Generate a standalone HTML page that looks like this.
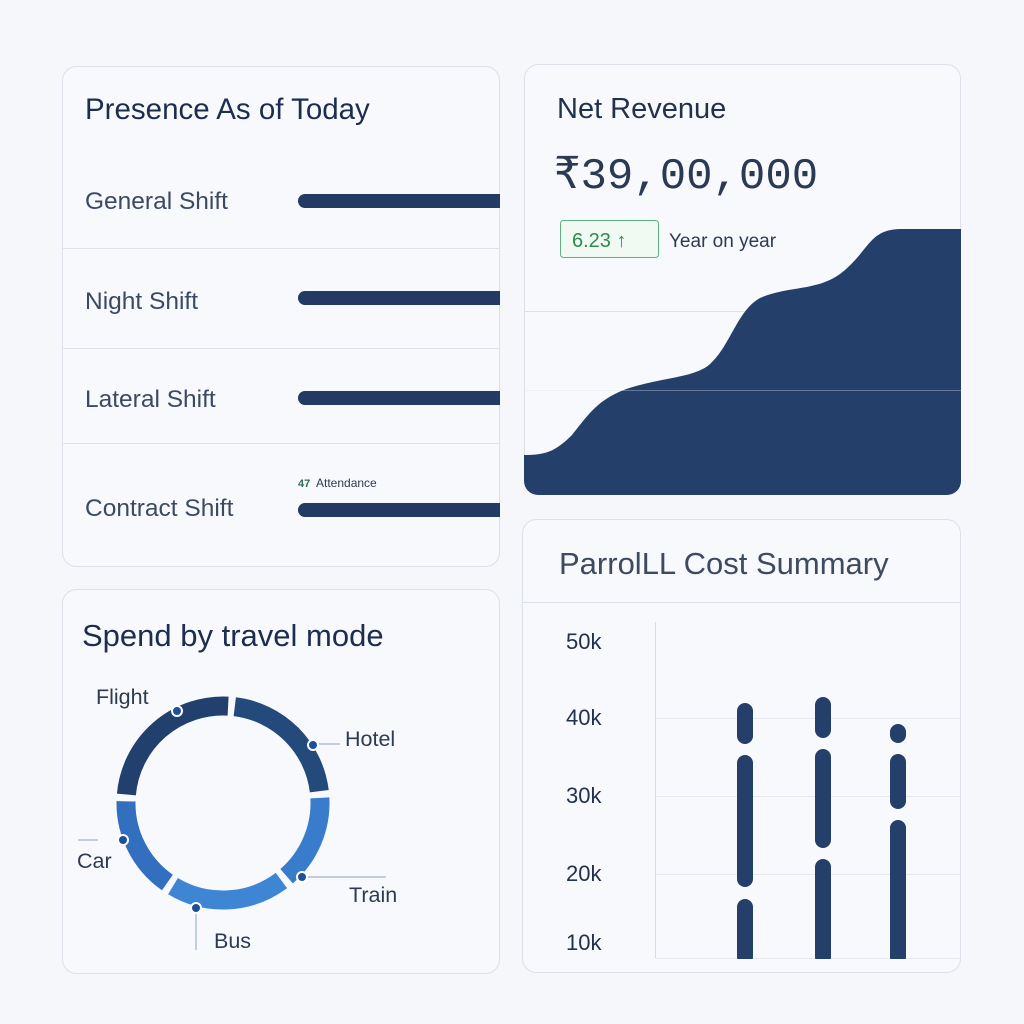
<!DOCTYPE html>
<html><head><meta charset="utf-8"><style>
html,body{margin:0;padding:0;background:#f5f6fa;}
svg{display:block;}
text{font-family:"Liberation Sans","DejaVu Sans",sans-serif;}
</style></head><body>
<svg width="1024" height="1024" viewBox="0 0 1024 1024" xmlns="http://www.w3.org/2000/svg">
<rect width="1024" height="1024" fill="#f6f7fa"/>
<defs>
<clipPath id="c1"><rect x="62" y="66" width="438" height="501" rx="14"/></clipPath>
<clipPath id="c2"><rect x="524" y="64" width="437" height="431" rx="14"/></clipPath>
</defs>
<!-- Card 1 -->
<rect x="62.5" y="66.5" width="437" height="500" rx="14" fill="#f8f9fc" stroke="#dde1ea"/>
<text x="85" y="119" font-size="29.5" fill="#1c2d4f">Presence As of Today</text>
<g clip-path="url(#c1)">
<line x1="62" y1="248.5" x2="500" y2="248.5" stroke="#dfe3ea"/>
<line x1="62" y1="348.5" x2="500" y2="348.5" stroke="#dfe3ea"/>
<line x1="62" y1="443.5" x2="500" y2="443.5" stroke="#dfe3ea"/>
<rect x="298" y="194" width="220" height="14" rx="7" fill="#223a64"/>
<rect x="298" y="291" width="220" height="14" rx="7" fill="#223a64"/>
<rect x="298" y="391" width="220" height="14" rx="7" fill="#223a64"/>
<rect x="298" y="503" width="220" height="14" rx="7" fill="#223a64"/>
</g>
<text x="85" y="209" font-size="24.5" fill="#3b4a63">General Shift</text>
<text x="85" y="309" font-size="24.5" fill="#3b4a63">Night Shift</text>
<text x="85" y="407" font-size="24.5" fill="#3b4a63">Lateral Shift</text>
<text x="85" y="516" font-size="24.5" fill="#3b4a63">Contract Shift</text>
<text x="298" y="487" font-size="11" font-weight="bold" fill="#2e6b5a">47</text>
<text x="316" y="487" font-size="12" fill="#2c3a52">Attendance</text>

<!-- Card 2 -->
<rect x="524.5" y="64.5" width="436" height="430" rx="14" fill="#f8f9fc" stroke="#dde1ea"/>
<text x="557" y="118" font-size="29" fill="#22314d">Net Revenue</text>
<text x="554" y="188" font-size="44" fill="#2a3a55" style="font-family:'Liberation Mono','DejaVu Sans Mono',monospace">₹39,00,000</text>
<rect x="560.5" y="220.5" width="98" height="37" rx="3" fill="#f0faf3" stroke="#5fb27f"/>
<text x="572" y="247" font-size="20" fill="#2f8a52">6.23 ↑</text>
<text x="669" y="247" font-size="19" fill="#2c3a52">Year on year</text>
<g clip-path="url(#c2)">
<line x1="524" y1="311.5" x2="961" y2="311.5" stroke="#dde1ea"/>
<path d="M524,455 C545,455 555,452 572,435 C590,413 600,395 640,385 C670,377 700,376 712,362 C730,345 738,310 760,298 C790,285 820,292 845,270 C870,248 870,230 900,229 L961,229 L961,495 L524,495 Z" fill="#243f6a"/>
<line x1="524" y1="390.5" x2="961" y2="390.5" stroke="#dde1ea" stroke-opacity="0.35"/>
</g>

<!-- Card 3 -->
<rect x="62.5" y="589.5" width="437" height="384" rx="14" fill="#f8f9fc" stroke="#dde1ea"/>
<text x="82" y="646" font-size="31" fill="#1c2d4f">Spend by travel mode</text>
<g fill="none" stroke-width="19">
<path d="M126.4,794.5 A97,97 0 0 1 228.1,706.1" stroke="#22406d"/>
<path d="M234.8,706.7 A97,97 0 0 1 319.3,791.2" stroke="#234a7a"/>
<path d="M319.9,797.9 A97,97 0 0 1 286.6,876.2" stroke="#3a7ccc"/>
<path d="M281.4,880.5 A97,97 0 0 1 173.0,886.1" stroke="#3e85d4"/>
<path d="M167.4,882.5 A97,97 0 0 1 126.0,801.3" stroke="#336fbf"/>
</g>
<g stroke="#9ab4d4" stroke-width="1.2">
<line x1="313" y1="744" x2="340" y2="744"/>
<line x1="302" y1="877" x2="386" y2="877"/>
<line x1="196" y1="908" x2="196" y2="950"/>
<line x1="78" y1="840" x2="98" y2="840"/>
</g>
<g fill="#1d4f9a" stroke="#fff" stroke-width="2">
<circle cx="177" cy="711" r="5"/>
<circle cx="313" cy="745" r="5"/>
<circle cx="123" cy="840" r="5"/>
<circle cx="302" cy="877" r="5"/>
<circle cx="196" cy="908" r="5"/>
</g>
<g font-size="21.5" fill="#2c3a52">
<text x="96" y="704">Flight</text>
<text x="345" y="746">Hotel</text>
<text x="77" y="868">Car</text>
<text x="349" y="902">Train</text>
<text x="214" y="948">Bus</text>
</g>

<!-- Card 4 -->
<rect x="522.5" y="519.5" width="438" height="453" rx="14" fill="#f8f9fc" stroke="#dde1ea"/>
<text x="559" y="574" font-size="31" fill="#3d4a5f">ParrolLL Cost Summary</text>
<line x1="522" y1="602.5" x2="961" y2="602.5" stroke="#dde1ea"/>
<g stroke="#e6e9ef">
<line x1="655" y1="718.5" x2="960" y2="718.5"/>
<line x1="655" y1="796.5" x2="960" y2="796.5"/>
<line x1="655" y1="874.5" x2="960" y2="874.5"/>
<line x1="655" y1="958.5" x2="960" y2="958.5"/>
</g>
<line x1="655.5" y1="622" x2="655.5" y2="958" stroke="#d8dce4"/>
<g font-size="22" fill="#22314d">
<text x="566" y="649">50k</text>
<text x="566" y="725">40k</text>
<text x="566" y="803">30k</text>
<text x="566" y="881">20k</text>
<text x="566" y="950">10k</text>
</g>
<g fill="#243f6a">
<rect x="737" y="703" width="16" height="41" rx="8"/>
<rect x="737" y="755" width="16" height="132" rx="8"/>
<rect x="737" y="899" width="16" height="66" rx="8"/>
<rect x="815" y="697" width="16" height="41" rx="8"/>
<rect x="815" y="749" width="16" height="99" rx="8"/>
<rect x="815" y="859" width="16" height="106" rx="8"/>
<rect x="890" y="724" width="16" height="19" rx="8"/>
<rect x="890" y="754" width="16" height="55" rx="8"/>
<rect x="890" y="820" width="16" height="145" rx="8"/>
</g>
<rect x="700" y="959" width="230" height="12" fill="#f8f9fc"/>
</svg>
</body></html>
